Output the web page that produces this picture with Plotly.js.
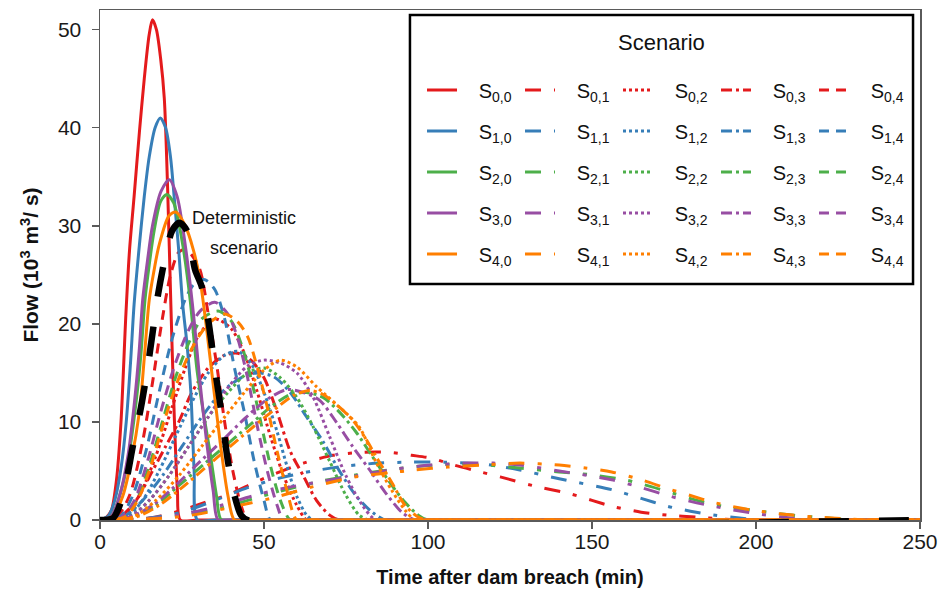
<!DOCTYPE html>
<html><head><meta charset="utf-8">
<script src="https://cdn.plot.ly/plotly-3.0.1.min.js"></script>
<style>html,body{margin:0;padding:0;background:#fff}#chart{width:941px;height:589px}</style>
</head><body><div id="chart"></div>
<script>
// ---- data (time in min, flow in 10^3 m3/s) ----
// j = 0 (solid)
const t_S00 = [0,2,3.5,5,6.4,7.9,9,10.4,12,13.5,15,16,17.2,18.5,19.6,20.6,21.6,22.6,23.6,24.5,30,250];
const q_S00 = [0,0.3,1,4,10,21,27.5,33,39.5,45,49.5,51,50,47,43,34,22,11,3,0,0,0];
const t_S10 = [0,2.5,4.5,6.5,8,9.3,10.4,12,13.5,15,16.8,18.4,20,21.5,22.6,24,25.2,26.5,27.7,28.7,29.7,35,250];
const q_S10 = [0,0.4,2,5.5,10,16,22,28,33,37,40,41,40,37,33,27.5,22,18,13,5,0,0,0];
const t_S20 = [0,3.5,6,8.5,11,12.5,13.7,15,16.5,18.5,20.4,22.5,25,27.5,29.5,31.5,33.5,35.5,37,42,250];
const q_S20 = [0,0.4,2.5,6,12,17,22.4,26,29.5,32.5,33.2,32.3,28.5,22.4,15.5,11,7,2.5,0,0,0];
const t_S30 = [0,3.5,6,8.5,10.5,12,13,14.5,16,18.6,21.1,23.5,26,28.5,30.5,32.5,34.5,36,40,250];
const q_S30 = [0,0.4,2.5,6.5,12,17.5,22.4,26.5,30,33.5,34.7,33,28,21,14,8,3,0,0,0];
const t_S40 = [0,4,7,9.5,12,13.5,15,16.5,18,21,23.1,26,28.5,30.5,32.5,34.7,37,39,41,45,250];
const q_S40 = [0,0.4,2.5,6,11,16.5,22.4,25.5,28,31,31.4,30,27.5,24.5,19.5,13.3,7,2.5,0,0,0];
// j = 1
const t_S01 = [0,15,25,32,40,47,54,62,71,80,88,95,101,108,116,122,132,143,150,156,165,173,182,190,195,200,250];
const q_S01 = [0,0.2,1,1.8,2.7,3.8,4.8,5.8,6.6,6.9,6.9,6.6,6.3,5.6,4.9,4.4,3.5,2.7,2,1.4,0.8,0.5,0.3,0.1,0,0,0];
const t_S11 = [0,15,25,35,45,55,65,75,85,95,105,117,128,140,156,165,173,180,187,195,202,207,250];
const q_S11 = [0,0.2,0.8,2,3.3,4.3,5,5.5,5.8,5.9,5.9,5.7,5.1,4.2,3.1,2.2,1.4,0.9,0.5,0.2,0,0,0];
const t_S21 = [0,18,28,38,48,58,68,78,88,98,108,118,128,140,150,160,168,175,182,190,199,211,222,232,237,250];
const q_S21 = [0,0.2,0.6,1.3,2.3,3.2,4,4.6,5.1,5.5,5.7,5.6,5.3,4.9,4.6,4.1,3.4,2.7,2,1.4,1,0.5,0.2,0,0,0];
const t_S31 = [0,17,27,37,47,57,67,80,90,101,112,120,128,140,156,165,173,180,187,199,208,216,221,250];
const q_S31 = [0,0.2,0.7,1.5,2.5,3.3,3.9,4.6,5.2,5.6,5.8,5.8,5.6,5,4.1,3.3,2.5,1.9,1.4,0.7,0.3,0,0,0];
const t_S41 = [0,20,30,40,52,65,78,88,96,106,117,128,140,148,156,165,173,180,187,199,211,223,235,240,250];
const q_S41 = [0,0.2,0.6,1.3,2.2,3.4,4.4,4.8,5.1,5.4,5.6,5.8,5.6,5.3,4.9,4.1,3.2,2.5,1.8,1,0.5,0.2,0,0,0];
// j = 2
const t_S02 = [0,7,12,17,22,26,30,35,40,44,48,52,56,60,63,67,250];
const q_S02 = [0,0.3,2.5,6.5,11.5,15.5,18.8,20.5,19.5,17,13,8.5,4.5,1.5,0,0,0];
const t_S12 = [0,8,13,18,23,28,33,38,42,46,50,54,57,60,63,65,70,250];
const q_S12 = [0,0.3,2,5,8.5,12,15,16.8,17.2,16,13,9,5.5,2.4,0.5,0,0,0];
const t_S22 = [0,9,15,21,27,33,39,45,50,55,60,65,70,75,79,82,87,250];
const q_S22 = [0,0.3,2,4.5,7.5,10.5,13,15,15.5,14.5,12.5,9.5,6,2.5,0.5,0,0,0];
const t_S32 = [0,9,15,21,27,33,39,45,50,55,60,65,70,75,80,84,89,250];
const q_S32 = [0,0.3,2,4.5,7.5,10.5,13.5,15.7,16.3,16,15,12.5,8.5,4.5,1.5,0,0,0];
const t_S42 = [0,10,17,24,31,38,44,50,55,60,66,72,79,84,89,93,96,100,250];
const q_S42 = [0,0.3,2,4.5,7.5,10.5,13,15.3,16.3,15.6,13.6,11.8,9.5,6,3,1,0,0,0];
// j = 3
const t_S03 = [0,6,11,16,20,24,28,33,38,42,46,50,54,58,62,66,70,73,77,250];
const q_S03 = [0,0.3,2,5,7.5,10,13,15.5,16.8,17,16.3,14.5,11,7,4.5,2,0.5,0,0,0];
const t_S13 = [0,7,13,19,25,31,37,43,48,53,58,63,68,73,78,83,87,91,250];
const q_S13 = [0,0.3,2,4.5,7.5,10.5,13,14.5,15,14.6,13,10.5,8,5,2.5,0.8,0,0,0];
const t_S23 = [0,10,17,24,31,38,45,52,58,63,68,73,78,83,88,93,97,100,104,250];
const q_S23 = [0,0.3,1.5,3.5,5.5,7.5,9.5,11.5,12.8,13,12.5,11,9,6.5,4,1.8,0.5,0,0,0];
const t_S33 = [0,9,16,23,30,37,44,51,57,62,67,72,77,82,87,92,96,100,250];
const q_S33 = [0,0.3,1.5,3.5,5.8,8,10.3,12.3,13.3,13,12.2,10,7.5,5.2,2.8,0.8,0,0,0];
const t_S43 = [0,11,18,25,32,39,46,53,59,64,68,73,77,81,85,89,93,97,100,104,250];
const q_S43 = [0,0.3,1.5,3.3,5.3,7.3,9.3,11.2,12.7,13.2,12.8,11.5,10.2,8.3,6,3.8,1.5,0.3,0,0,0];
// j = 4
const t_S04 = [0,5,9,13,16,19,21.5,24,26,28,30.5,33,35.5,38,40.5,43,45,50,250];
const q_S04 = [0,0.3,2.5,8,14,20.5,25,27.3,27.6,27,25.5,21,16,10,5,1.5,0,0,0];
const t_S14 = [0,6,10,14,18,22,26,29,32,35,38,41,44,47,50,52,56,250];
const q_S14 = [0,0.3,2.5,7,13,18.5,22.5,24.2,24.5,23.5,20.5,15.5,11,6,2,0,0,0];
const t_S24 = [0,7,11,15,19,23,27,31,36,40,43,46,49,52,55,58,62,250];
const q_S24 = [0,0.3,2,5.5,10,14.5,18,20.5,21.3,20.3,18,14.5,10,5.5,2,0,0,0];
const t_S34 = [0,6.5,10.5,14.5,18.5,22.5,26.5,30.5,35,39,42,45,48,51,54,56,60,250];
const q_S34 = [0,0.3,2,6,11,15.5,19,21.3,22.2,21,18.5,14.5,9.5,5,1.5,0,0,0];
const t_S44 = [0,7.5,11.5,15.5,19.5,23.5,28,33,38,42,45,48,51,54,57,60,64,250];
const q_S44 = [0,0.3,2,5.5,10,14,17.5,20,21,20.2,18.7,15.5,11.5,7,3,0,0,0];
// deterministic scenario
const t_det = [0,4,6,8,10,12.5,14.5,16,17.7,20,22,24.2,26.5,29,31,33,35,37,39,41,43,45,250];
const q_det = [0,0.2,1.5,4,7.5,11.5,15.5,19,23,27,29.5,30.3,29.5,25.5,23.8,20.4,15.5,11,6,2.5,0.5,0,0];

const xTicks = [0,50,100,150,200,250];
const yTicks = [0,10,20,30,40,50];
const groupIdx = [0,1,2,3,4];      // first subscript (colour)
const styleIdx = [0,1,2,3,4];      // second subscript (line type)

// ---- styles ----
const colors = ['#E41A1C','#377EB8','#4DAF4A','#984EA3','#FF7F00'];
const dashes = ['solid','16px,13px,4px,13px','3px,3px','11px,4px,3px,4px','10px,7px'];
const FONT = 'Liberation Sans, Arial, sans-serif';

const T = {S00:t_S00,S01:t_S01,S02:t_S02,S03:t_S03,S04:t_S04,S10:t_S10,S11:t_S11,S12:t_S12,S13:t_S13,S14:t_S14,
  S20:t_S20,S21:t_S21,S22:t_S22,S23:t_S23,S24:t_S24,S30:t_S30,S31:t_S31,S32:t_S32,S33:t_S33,S34:t_S34,
  S40:t_S40,S41:t_S41,S42:t_S42,S43:t_S43,S44:t_S44};
const Q = {S00:q_S00,S01:q_S01,S02:q_S02,S03:q_S03,S04:q_S04,S10:q_S10,S11:q_S11,S12:q_S12,S13:q_S13,S14:q_S14,
  S20:q_S20,S21:q_S21,S22:q_S22,S23:q_S23,S24:q_S24,S30:q_S30,S31:q_S31,S32:q_S32,S33:q_S33,S34:q_S34,
  S40:q_S40,S41:q_S41,S42:q_S42,S43:q_S43,S44:q_S44};

const legendIds = ['legend','legend2','legend3','legend4','legend5'];
const traces = [];
groupIdx.forEach(i => {
  styleIdx.forEach(j => {
    const k = 'S' + i + j;
    traces.push({
      type: 'scatter', mode: 'lines', x: T[k], y: Q[k],
      name: '\u00a0\u00a0\u00a0S<sub>' + i + ',' + j + '</sub>',
      legend: legendIds[j], legendgroup: k,
      line: {color: colors[i], width: 3, dash: dashes[j], shape: 'spline', smoothing: 0.8},
      hoverinfo: 'skip'
    });
  });
});
traces.push({type:'scatter', mode:'lines', x:t_det, y:q_det, showlegend:false,
  line:{color:'#000', width:6.5, dash:'30px,30px', shape:'spline', smoothing:0.8}, hoverinfo:'skip'});

const colX = [0.3927,0.5122,0.6317,0.7512,0.8707];
const layout = {
  width: 941, height: 589,
  margin: {l:100, r:21, t:10, b:69},
  paper_bgcolor: '#fff', plot_bgcolor: '#fff',
  font: {family: FONT, color: '#1a1a1a'},
  xaxis: {range:[0,250], tickvals:xTicks, ticktext:xTicks.map(String), showgrid:false, zeroline:false,
    showline:true, linecolor:'#5a5a5a', linewidth:1.5, mirror:true,
    ticks:'outside', ticklen:7, tickwidth:1.5, tickcolor:'#5a5a5a', ticklabelstandoff:-5,
    tickfont:{size:21, color:'#1a1a1a', family:FONT},
    title:{text:'Time after dam breach (min)', font:{size:20, weight:'bold', color:'#111', family:FONT}, standoff:18}},
  yaxis: {range:[0,52], tickvals:yTicks, ticktext:yTicks.map(String), showgrid:false, zeroline:false,
    showline:true, linecolor:'#5a5a5a', linewidth:1.5, mirror:true,
    ticks:'outside', ticklen:7, tickwidth:1.5, tickcolor:'#5a5a5a', ticklabelstandoff:6,
    tickfont:{size:21, color:'#1a1a1a', family:FONT},
    title:{text:'Flow (10<sup>3</sup> m<sup>3</sup>/ s)', font:{size:21, weight:'bold', color:'#111', family:FONT}, standoff:13}},
  shapes: [{type:'rect', xref:'paper', yref:'paper', x0:0.378, x1:0.9915, y0:0.4627, y1:0.9902,
    line:{color:'#000', width:2.5}, fillcolor:'rgba(0,0,0,0)', layer:'above'}],
  annotations: [
    {xref:'paper', yref:'paper', x:0.6848, y:0.9353, text:'Scenario', showarrow:false,
      font:{size:22, color:'#111', family:FONT}, xanchor:'center', yanchor:'middle'},
    {x:44, y:30.8, text:'Deterministic', showarrow:false, font:{size:18, color:'#111', family:FONT}, xanchor:'center', yanchor:'middle'},
    {x:44, y:27.7, text:'scenario', showarrow:false, font:{size:18, color:'#111', family:FONT}, xanchor:'center', yanchor:'middle'}
  ]
};
legendIds.forEach((id, j) => {
  layout[id] = {x: colX[j], y: 0.8814, xanchor:'left', yanchor:'top', orientation:'v',
    traceorder:'grouped', tracegroupgap:12, bgcolor:'rgba(0,0,0,0)', borderwidth:0,
    font:{size:20, color:'#111', family:FONT}};
});

Plotly.newPlot('chart', traces, layout, {staticPlot:true, displayModeBar:false});
</script>
</body></html>
